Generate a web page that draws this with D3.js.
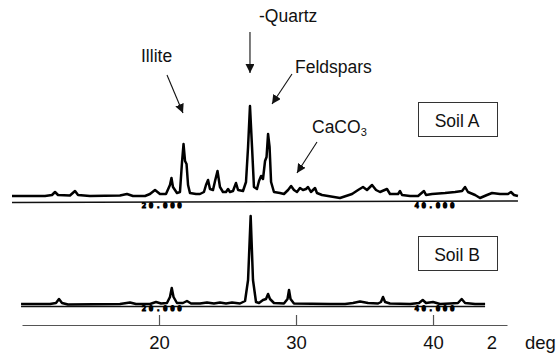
<!DOCTYPE html>
<html>
<head>
<meta charset="utf-8">
<script src="https://cdn.jsdelivr.net/npm/d3@7"></script>
<style>
  body { margin: 0; background: #fff; }
  text { font-family: "Liberation Sans", Arial, sans-serif; fill: #111; }
</style>
</head>
<body>
<div id="chart"></div>
<script>
// 2-theta positions (deg) and recorded intensity (arbitrary units) for each soil trace
const twoThetaA = [9.27, 11.68, 12.19, 12.41, 12.63, 13.50, 13.87, 14.09, 14.96, 17.15, 17.66, 18.10,
  18.98, 19.34, 19.71, 20.07, 20.51, 20.80, 20.91, 21.02, 21.31, 21.53, 21.68, 21.79, 21.90, 22.01,
  22.12, 22.26, 22.70, 22.99, 23.28, 23.43, 23.58, 23.72, 23.94, 24.09, 24.27, 24.45, 24.67, 24.89,
  25.04, 25.18, 25.40, 25.62, 25.77, 26.13, 26.35, 26.50, 26.64, 26.79, 26.93, 27.15, 27.30, 27.45,
  27.59, 27.74, 27.85, 27.96, 28.07, 28.18, 28.39, 28.83, 29.12, 29.42, 29.64, 29.85, 30.07, 30.29,
  30.51, 30.73, 30.88, 31.09, 31.39, 31.53, 31.90, 33.21, 34.09, 34.53, 34.89, 35.18, 35.55, 35.84,
  36.13, 36.64, 36.86, 37.45, 37.59, 37.74, 38.32, 38.91, 39.34, 39.49, 39.93, 40.88, 41.61, 42.12,
  42.34, 42.55, 43.07, 43.43, 43.94, 44.31, 44.89, 45.47, 45.69, 45.91, 46.20];
const intensityA = [1, 1, 2, 5, 2, 1.5, 6, 2, 1, 1.5, 3, 1,
  1, 3, 7, 3, 3, 12, 19, 10, 4, 5, 35, 53, 36, 33,
  12, 4, 3, 3, 5, 12, 17, 8, 7, 16, 26, 10, 5, 5,
  8, 5, 6, 14, 7, 6, 15, 50, 91, 50, 10, 8, 16, 21,
  18, 36, 40, 63, 50, 15, 5, 4, 3, 7, 11, 7, 5, 9,
  7, 8, 10, 5, 9, 4, 2, -1, 3, 7, 10, 7, 12, 7,
  5, 8, 3, 3, 6, 2, 1, 1, 6, 2, 3, 4, 5, 6,
  10, 5, 2, -1, 2, 4, 3, 3, 5, 2, 1];

const twoThetaB = [9.93, 12.04, 12.48, 12.70, 12.92, 13.36, 17.15, 17.88, 18.32, 19.34, 19.78, 20.15,
  20.58, 20.80, 20.93, 21.06, 21.31, 21.75, 22.04, 22.34, 22.99, 23.50, 24.01, 24.45, 24.89, 25.33,
  25.91, 26.28, 26.50, 26.69, 26.86, 27.08, 27.30, 27.59, 27.81, 27.96, 28.10, 28.39, 29.12, 29.38,
  29.49, 29.60, 29.85, 32.48, 33.58, 34.16, 34.67, 35.26, 35.99, 36.20, 36.35, 36.50, 36.86, 38.32,
  38.98, 39.25, 39.49, 40.00, 40.51, 41.24, 41.82, 42.09, 42.34, 43.07, 43.80];
const intensityB = [1, 1, 2, 6, 2, 0.5, 1, 2.5, 1, 1, 3, 1.5,
  2, 8, 17, 8, 2, 2, 4, 1.5, 1.5, 2.5, 1.5, 2.5, 1.5, 2.5,
  1.5, 4, 25, 89, 25, 3, 2, 5, 6, 11, 6, 2, 1.5, 6,
  15, 6, 1.5, 1, 1, 2, 3.5, 2, 1.5, 3, 8, 3, 1.5, 1,
  2, 5, 2, 3, 1, 1.5, 2, 6, 2, 1, 1];

const tickValues = [20, 30, 40];
const axisTitles = ["2", "deg"];
const sampleNames = ["Soil A", "Soil B"];
const recorderMarks = ["20.000", "40.000"];

const width = 560, height = 353;
const svg = d3.select("#chart").append("svg")
  .attr("width", width).attr("height", height)
  .style("background", "#fff");

// x scale shared by both traces and the axis
const x = d3.scaleLinear().domain([10, 45.4]).range([22, 507]);
const yA = d3.scaleLinear().domain([0, 100]).range([197, 97]);
const yB = d3.scaleLinear().domain([0, 100]).range([305, 205]);

// recorder baseline lines under each trace
svg.append("line").attr("x1", x(9.27)).attr("x2", x(46.2))
  .attr("y1", yA(-5.5)).attr("y2", yA(-4)).attr("stroke", "#111").attr("stroke-width", 1.5);
svg.append("line").attr("x1", x(9.93)).attr("x2", x(43.8))
  .attr("y1", yB(-1.5)).attr("y2", yB(-1.5)).attr("stroke", "#111").attr("stroke-width", 1.3);

// small recorder labels (printed by the chart recorder, very blurry in the scan)
recorderMarks.forEach((m, i) => {
  const t = i === 0 ? 20.3 : 40.2;
  [yA(-10.5), yB(-5.5)].forEach(yy => {
    svg.append("text").attr("x", x(t)).attr("y", yy).attr("text-anchor", "middle")
      .style("font-family", "DejaVu Sans Mono").style("font-weight", "bold")
      .style("font-size", "7.5px").style("letter-spacing", "2.6px")
      .style("fill", "#000").style("stroke", "#000").style("stroke-width", 0.9)
      .text(m);
  });
});

// the two diffraction traces
const lineA = d3.line().x(d => x(d[0])).y(d => yA(d[1]));
const lineB = d3.line().x(d => x(d[0])).y(d => yB(d[1]));
svg.append("path").datum(d3.zip(twoThetaA, intensityA)).attr("d", lineA)
  .attr("fill", "none").attr("stroke", "#000").attr("stroke-width", 2.5)
  .attr("stroke-linejoin", "round");
svg.append("path").datum(d3.zip(twoThetaB, intensityB)).attr("d", lineB)
  .attr("fill", "none").attr("stroke", "#000").attr("stroke-width", 2.5)
  .attr("stroke-linejoin", "round");

// axis: ticks point up, labels below
const axisY = 325;
const axis = svg.append("g").attr("transform", `translate(0,${axisY})`)
  .call(d3.axisBottom(x).tickValues(tickValues).tickSizeInner(-10).tickSizeOuter(0).tickPadding(11));
axis.select(".domain").attr("stroke", "#555").attr("stroke-width", 1.2);
axis.selectAll(".tick line").attr("stroke", "#555").attr("stroke-width", 1.2);
axis.selectAll(".tick text").style("font-family", "Liberation Sans, Arial, sans-serif")
  .style("font-size", "18.5px").attr("fill", "#111");

svg.append("text").attr("x", 492).attr("y", 349).attr("text-anchor", "middle")
  .style("font-size", "18.5px").text(axisTitles[0]);
svg.append("text").attr("x", 525).attr("y", 349)
  .style("font-size", "18.5px").text(axisTitles[1]);

// sample boxes
[102, 236].forEach((top, i) => {
  svg.append("rect").attr("x", 418.5).attr("y", top + 0.5).attr("width", 79).attr("height", 34)
    .attr("fill", "none").attr("stroke", "#333").attr("stroke-width", 1);
  svg.append("text").attr("x", 457).attr("y", top + 25).attr("text-anchor", "middle")
    .style("font-size", "17.5px").text(sampleNames[i]);
});

// arrow marker
svg.append("defs").append("marker").attr("id", "arr")
  .attr("viewBox", "0 0 10 10").attr("refX", 10).attr("refY", 5)
  .attr("markerWidth", 9).attr("markerHeight", 9).attr("markerUnits", "userSpaceOnUse")
  .attr("orient", "auto")
  .append("path").attr("d", "M0,0 L10,5 L0,10 z").attr("fill", "#111");

const arrow = (x1, y1, x2, y2) => svg.append("line")
  .attr("x1", x1).attr("y1", y1).attr("x2", x2).attr("y2", y2)
  .attr("stroke", "#111").attr("stroke-width", 1.1).attr("marker-end", "url(#arr)");

// peak annotations
svg.append("text").attr("x", 141).attr("y", 62).style("font-size", "17.5px").text("Illite");
arrow(167, 75, x(21.75), 113);
svg.append("text").attr("x", 259).attr("y", 22).style("font-size", "17.5px").text("-Quartz");
arrow(x(26.64), 32, x(26.64), 73);
svg.append("text").attr("x", 295).attr("y", 73).style("font-size", "17.5px").text("Feldspars");
arrow(292, 74, x(28.25), 104);
const ca = svg.append("text").attr("x", 312).attr("y", 133).style("font-size", "17.5px");
ca.append("tspan").text("CaCO");
ca.append("tspan").attr("dy", 2.5).style("font-size", "11px").text("3");
arrow(317, 142, x(30.07), 173);
</script>
</body>
</html>
